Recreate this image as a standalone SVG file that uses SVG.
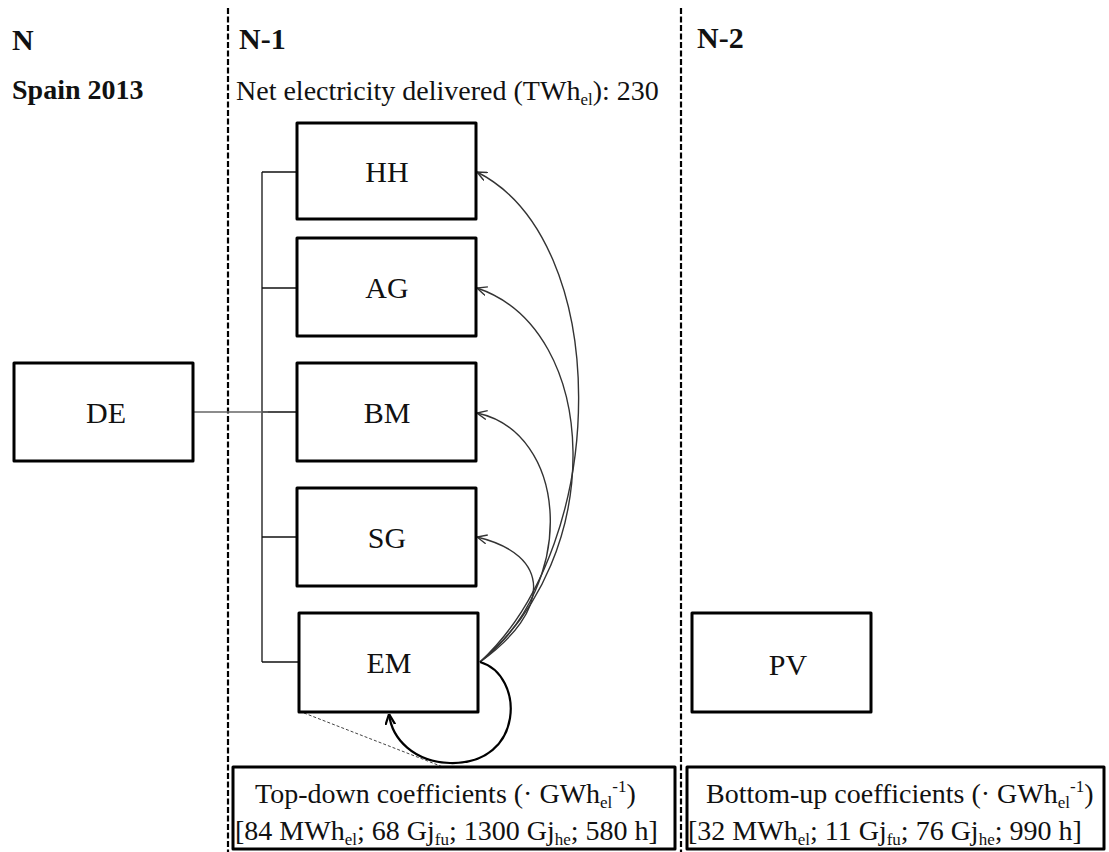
<svg xmlns="http://www.w3.org/2000/svg" width="1109" height="852" viewBox="0 0 1109 852">
<style>
.box{fill:#fff;stroke:#000;stroke-width:3;stroke-linejoin:round}
.lbl{font-family:"Liberation Serif","Times New Roman",serif;font-size:30px;fill:#111;text-anchor:middle}
.hdr{font-family:"Liberation Serif","Times New Roman",serif;font-size:30px;font-weight:bold;fill:#111}
.txt{font-family:"Liberation Serif","Times New Roman",serif;font-size:28px;fill:#111}
.sub{font-size:17px}
.sep{stroke:#000;stroke-width:2.2;stroke-dasharray:6 2.5;fill:none}
.bus{stroke:#111;stroke-width:1.3;fill:none}
.cur{stroke:#333;stroke-width:1.4;fill:none;marker-end:url(#open)}
.loop{stroke:#000;stroke-width:2.2;fill:none;marker-end:url(#openb)}
</style>
<defs>
<marker id="open" viewBox="0 0 10 10" refX="10" refY="5" markerWidth="10" markerHeight="10" markerUnits="userSpaceOnUse" orient="auto">
<path d="M0,0.5 L10,5 L0,9.5" fill="none" stroke="#333" stroke-width="1.4"/>
</marker>
<marker id="openb" viewBox="0 0 10 10" refX="10" refY="5" markerWidth="11" markerHeight="11" markerUnits="userSpaceOnUse" orient="auto">
<path d="M0,0.5 L10,5 L0,9.5" fill="none" stroke="#000" stroke-width="2"/>
</marker>
</defs>
<rect width="1109" height="852" fill="#fff"/>
<line class="sep" x1="228" y1="8" x2="228" y2="852"/>
<line class="sep" x1="681" y1="8" x2="681" y2="852"/>
<text class="hdr" x="12" y="50">N</text>
<text class="hdr" x="239" y="49">N-1</text>
<text class="hdr" x="697" y="48">N-2</text>
<text class="txt" x="12" y="99" font-weight="bold">Spain 2013</text>
<text class="txt" x="236" y="100" font-size="27.5">Net electricity delivered (TWh<tspan class="sub" dy="5">el</tspan><tspan dy="-5">): 230</tspan></text>
<g id="connectors">
<line class="bus" x1="262" y1="172" x2="262" y2="662"/>
<line class="bus" x1="262" y1="172" x2="297" y2="172"/>
<line class="bus" x1="262" y1="288" x2="297" y2="288"/>
<line class="bus" x1="262" y1="412" x2="297" y2="412"/>
<line class="bus" x1="262" y1="537" x2="297" y2="537"/>
<line class="bus" x1="262" y1="662" x2="299" y2="662"/>
<line stroke="#666" stroke-width="1.3" x1="193" y1="412" x2="268" y2="412"/>
<path class="cur" d="M480,662 C612,540 612,240 477,172"/>
<path class="cur" d="M480,662 C607,558 602,330 477,288"/>
<path class="cur" d="M480,662 C582,580 566,432 477,413"/>
<path class="cur" d="M480,662 C552,610 552,555 477,537"/>
<path class="loop" d="M480,662 C525,675 525,765 450,763 C415,762 392,740 389,714"/>
<line stroke="#444" stroke-width="1" stroke-dasharray="3 2" x1="304" y1="713" x2="443" y2="767"/>
</g>
<g id="DE"><rect class="box" x="14" y="363" width="179" height="98"/><text class="lbl" x="106" y="423">DE</text></g>
<g id="HH"><rect class="box" x="297" y="123" width="179" height="96"/><text class="lbl" x="387" y="182">HH</text></g>
<g id="AG"><rect class="box" x="297" y="238" width="179" height="98"/><text class="lbl" x="387" y="298">AG</text></g>
<g id="BM"><rect class="box" x="297" y="363" width="179" height="98"/><text class="lbl" x="387" y="423">BM</text></g>
<g id="SG"><rect class="box" x="297" y="488" width="179" height="98"/><text class="lbl" x="387" y="548">SG</text></g>
<g id="EM"><rect class="box" x="299" y="613" width="179" height="99"/><text class="lbl" x="389" y="673">EM</text></g>
<g id="PV"><rect class="box" x="692" y="613" width="179" height="99"/><text class="lbl" x="788" y="675">PV</text></g>
<g id="TopDown"><rect class="box" x="233" y="767" width="442" height="82"/>
<text class="txt" x="255" y="803">Top-down coefficients (· GWh<tspan class="sub" dy="5">el</tspan><tspan class="sub" dy="-16">-1</tspan><tspan dy="11">)</tspan></text>
<text class="txt" x="235" y="840">[84 MWh<tspan class="sub" dy="5">el</tspan><tspan dy="-5">; 68 Gj</tspan><tspan class="sub" dy="5">fu</tspan><tspan dy="-5">; 1300 Gj</tspan><tspan class="sub" dy="5">he</tspan><tspan dy="-5">; 580 h]</tspan></text>
</g>
<g id="BottomUp"><rect class="box" x="687" y="767" width="417" height="82"/>
<text class="txt" x="706" y="803">Bottom-up coefficients (· GWh<tspan class="sub" dy="5">el</tspan><tspan class="sub" dy="-16">-1</tspan><tspan dy="11">)</tspan></text>
<text class="txt" x="688" y="840">[32 MWh<tspan class="sub" dy="5">el</tspan><tspan dy="-5">; 11 Gj</tspan><tspan class="sub" dy="5">fu</tspan><tspan dy="-5">; 76 Gj</tspan><tspan class="sub" dy="5">he</tspan><tspan dy="-5">; 990 h]</tspan></text>
</g>
</svg>
